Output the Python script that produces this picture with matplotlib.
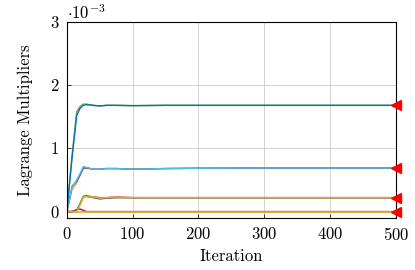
import matplotlib.pyplot as plt
import matplotlib
from matplotlib.ticker import FuncFormatter
matplotlib.rcParams['font.family'] = 'serif'
matplotlib.rcParams['font.serif'] = ['cmr10']
matplotlib.rcParams['mathtext.fontset'] = 'cm'
matplotlib.rcParams['axes.formatter.use_mathtext'] = True
matplotlib.rcParams['font.size'] = 12

it = [0, 8, 15, 20, 25, 30, 40, 50, 60, 75, 100, 150, 200, 300, 400, 500]

# lagrange multipliers
lam_green = [0, 0.9e-3, 1.58e-3, 1.66e-3, 1.70e-3, 1.70e-3, 1.68e-3, 1.67e-3, 1.68e-3, 1.68e-3,
             1.675e-3, 1.68e-3, 1.68e-3, 1.68e-3, 1.68e-3, 1.68e-3]
lam_blue = [0, 0.85e-3, 1.52e-3, 1.63e-3, 1.68e-3, 1.69e-3, 1.68e-3, 1.67e-3, 1.68e-3, 1.68e-3,
            1.675e-3, 1.68e-3, 1.68e-3, 1.68e-3, 1.68e-3, 1.68e-3]
lam_lblue = [0, 0.38e-3, 0.50e-3, 0.60e-3, 0.71e-3, 0.70e-3, 0.67e-3, 0.67e-3, 0.68e-3, 0.68e-3,
             0.67e-3, 0.68e-3, 0.685e-3, 0.69e-3, 0.69e-3, 0.69e-3]
lam_purple = [0, 0.40e-3, 0.48e-3, 0.58e-3, 0.69e-3, 0.69e-3, 0.67e-3, 0.67e-3, 0.68e-3, 0.68e-3,
              0.67e-3, 0.68e-3, 0.685e-3, 0.69e-3, 0.69e-3, 0.69e-3]
lam_yellow = [0, 0.35e-3, 0.45e-3, 0.57e-3, 0.68e-3, 0.69e-3, 0.67e-3, 0.67e-3, 0.68e-3, 0.68e-3,
              0.67e-3, 0.68e-3, 0.685e-3, 0.69e-3, 0.69e-3, 0.69e-3]
lam_red3 = [0, 0, 0.02e-3, 0.12e-3, 0.24e-3, 0.25e-3, 0.23e-3, 0.22e-3, 0.22e-3, 0.23e-3,
            0.22e-3, 0.22e-3, 0.22e-3, 0.22e-3, 0.22e-3, 0.22e-3]
lam_orange3 = [0, 0, 0.0, 0.10e-3, 0.23e-3, 0.24e-3, 0.23e-3, 0.21e-3, 0.22e-3, 0.23e-3,
               0.22e-3, 0.22e-3, 0.22e-3, 0.22e-3, 0.22e-3, 0.22e-3]
lam_purple3 = [0, 0, 0.01e-3, 0.11e-3, 0.23e-3, 0.24e-3, 0.22e-3, 0.20e-3, 0.21e-3, 0.22e-3,
               0.22e-3, 0.22e-3, 0.22e-3, 0.22e-3, 0.22e-3, 0.22e-3]
lam_green3 = [0, 0, 0.0, 0.12e-3, 0.24e-3, 0.24e-3, 0.23e-3, 0.22e-3, 0.22e-3, 0.22e-3,
              0.22e-3, 0.22e-3, 0.22e-3, 0.22e-3, 0.22e-3, 0.22e-3]
lam_red0 = [0, 0, 0.03e-3, 0.04e-3, 0.02e-3, 0.0, 0, 0, 0, 0, 0, 0, 0, 0, 0, 0]
lam_yellow0 = [0, 0, 0, 0, 0, 0, 0, 0, 0, 0, 0, 0, 0, 0, 0, 0]

# final values (red triangles)
final_it = [500, 500, 500, 500]
final_val = [1.68e-3, 0.69e-3, 0.22e-3, 0.0]

fig = plt.figure(figsize=(4.15, 2.7), dpi=100)
ax = fig.add_axes([0.161, 0.193, 0.793, 0.726])

ax.plot(it, lam_red0, color='#A2142F', lw=1)
ax.plot(it, lam_yellow0, color='#EDB120', lw=1.2)
ax.plot(it, lam_red3, color='#A2142F', lw=1)
ax.plot(it, lam_purple3, color='#7E2F8E', lw=1)
ax.plot(it, lam_green3, color='#77AC30', lw=1)
ax.plot(it, lam_orange3, color='#EDB120', lw=1, alpha=0.85)
ax.plot(it, lam_yellow, color='#EDB120', lw=1)
ax.plot(it, lam_purple, color='#7E2F8E', lw=1)
ax.plot(it, lam_lblue, color='#4DBEEE', lw=1)
ax.plot(it, lam_green, color='#77AC30', lw=1)
ax.plot(it, lam_blue, color='#0072BD', lw=1)
ax.plot(final_it, final_val, linestyle='none', marker='<', color='red', markersize=7, clip_on=False, zorder=5)

ax.set_xlim(0, 500)
ax.set_ylim(-0.1e-3, 3e-3)
ax.set_xticks([0, 100, 200, 300, 400, 500])
ax.set_yticks([0, 1e-3, 2e-3, 3e-3])
ax.yaxis.set_major_formatter(FuncFormatter(lambda v, p: '%d' % round(v / 1e-3)))
ax.grid(True, color='#cccccc', lw=0.6)
ax.set_axisbelow(True)
ax.tick_params(direction='in', length=3, width=0.5, pad=6)
for s in ax.spines.values():
    s.set_linewidth(0.8)
ax.text(0.0, 1.0, r'$\cdot 10^{-3}$', transform=ax.transAxes, fontsize=12, va='bottom', ha='left')

ax.set_xlabel('Iteration', labelpad=4)
ax.set_ylabel('Lagrange Multipliers', labelpad=12)

plt.savefig('out.png')
